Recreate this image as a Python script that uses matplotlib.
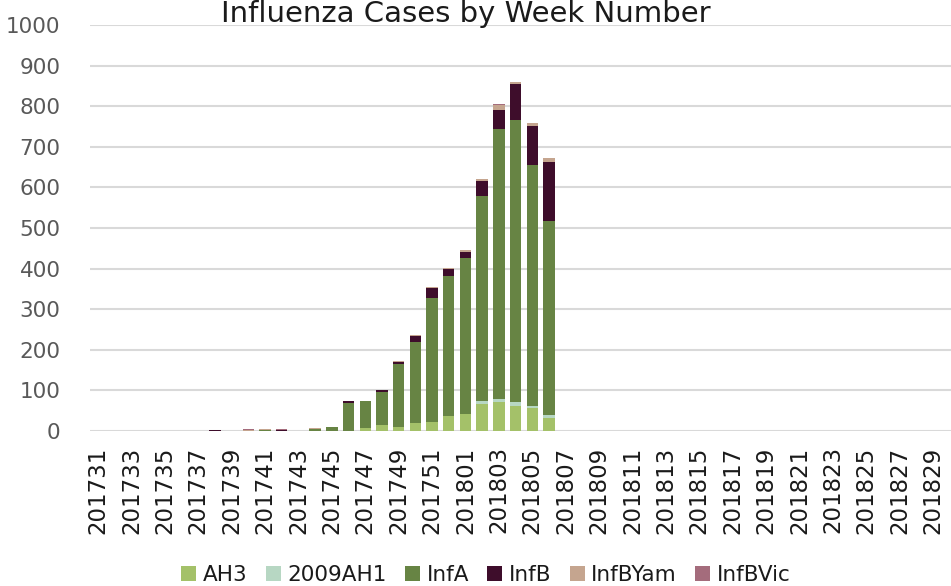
import numpy as np
import matplotlib
matplotlib.use("Agg")
import matplotlib.pyplot as plt

# week numbers (2017 wk31 .. 2018 wk30)
weeks = ["201731", "201732", "201733", "201734", "201735", "201736", "201737", "201738",
         "201739", "201740", "201741", "201742", "201743", "201744", "201745", "201746",
         "201747", "201748", "201749", "201750", "201751", "201752", "201801", "201802",
         "201803", "201804", "201805", "201806", "201807", "201808", "201809", "201810",
         "201811", "201812", "201813", "201814", "201815", "201816", "201817", "201818",
         "201819", "201820", "201821", "201822", "201823", "201824", "201825", "201826",
         "201827", "201828", "201829", "201830"]

# 13 values per line
ah3 = [0, 0, 0, 0, 0, 0, 0, 0, 0, 0, 0, 0, 0,
       0, 0, 0, 7, 15, 10, 20, 22, 38, 43, 66, 72, 62,
       57, 33, 0, 0, 0, 0, 0, 0, 0, 0, 0, 0, 0,
       0, 0, 0, 0, 0, 0, 0, 0, 0, 0, 0, 0, 0]
ah1_2009 = [0, 1, 0, 0, 0, 0, 0, 0, 0, 0, 0, 0, 1,
            0, 0, 0, 0, 0, 0, 0, 0, 0, 0, 7, 8, 9,
            5, 6, 0, 0, 0, 0, 0, 0, 0, 0, 0, 0, 0,
            0, 0, 0, 0, 0, 0, 0, 0, 0, 0, 0, 0, 0]
infa = [0, 0, 0, 0, 0, 0, 0, 0, 0, 1, 3, 0, 0,
        6, 9, 70, 68, 81, 156, 200, 305, 345, 384, 505, 663, 694,
        592, 479, 0, 0, 0, 0, 0, 0, 0, 0, 0, 0, 0,
        0, 0, 0, 0, 0, 0, 0, 0, 0, 0, 0, 0, 0]
infb = [0, 0, 0, 0, 0, 0, 0, 2, 0, 0, 0, 3, 0,
        0, 0, 3, 0, 5, 5, 15, 25, 16, 13, 37, 48, 89,
        97, 145, 0, 0, 0, 0, 0, 0, 0, 0, 0, 0, 0,
        0, 0, 0, 0, 0, 0, 0, 0, 0, 0, 0, 0, 0]
infb_yam = [0, 0, 0, 0, 0, 0, 0, 0, 0, 2, 1, 0, 0,
            1, 0, 1, 0, 1, 1, 2, 3, 3, 5, 5, 12, 6,
            7, 9, 0, 0, 0, 0, 0, 0, 0, 0, 0, 0, 0,
            0, 0, 0, 0, 0, 0, 0, 0, 0, 0, 0, 0, 0]
infb_vic = [0, 0, 0, 0, 0, 0, 0, 1, 0, 1, 2, 1, 0,
            0, 0, 0, 0, 0, 0, 0, 0, 0, 0, 0, 2, 0,
            1, 0, 0, 0, 0, 0, 0, 0, 0, 0, 0, 0, 0,
            0, 0, 0, 0, 0, 0, 0, 0, 0, 0, 0, 0, 0]

series = [("AH3", ah3, "#A4C169"),
          ("2009AH1", ah1_2009, "#B7D7C3"),
          ("InfA", infa, "#678444"),
          ("InfB", infb, "#3E0D2B"),
          ("InfBYam", infb_yam, "#C5A58F"),
          ("InfBVic", infb_vic, "#A46C7C")]

plt.rcParams['font.family'] = ['DejaVu Sans']

fig = plt.figure(figsize=(9.51, 5.86), dpi=100)
# plot area runs a bit past the right edge, like the cropped original
ax = fig.add_axes([89.7 / 951, 1 - 431 / 586, 868.4 / 951, 406 / 586])

x = np.arange(len(weeks))
bottom = np.zeros(len(weeks))
handles = []
for name, vals, col in series:
    vals = np.array(vals, dtype=float)
    b = ax.bar(x, vals, 0.68, bottom=bottom, color=col, label=name, zorder=3)
    handles.append(b)
    bottom += vals

ax.set_xlim(-0.5, len(weeks) - 0.5)
ax.set_ylim(0, 1000)
ax.set_yticks(range(0, 1001, 100))
ax.grid(axis='y', color='#D9D9D9', linewidth=1.5, zorder=0)
ax.set_axisbelow(True)
for s in ['top', 'right', 'left', 'bottom']:
    ax.spines[s].set_visible(False)
ax.tick_params(axis='both', length=0)
ax.tick_params(axis='y', labelsize=15.5, labelcolor='#595959', pad=21)
ax.set_xticks(x[::2])
ax.set_xticklabels(weeks[::2], rotation=90, fontsize=16.5, color='#1a1a1a')
ax.tick_params(axis='x', pad=11)

fig.text(466 / 951, 1 - 22 / 586, "Influenza Cases by Week Number", ha='center',
         va='baseline', fontsize=21, color='#1a1a1a')

fig.legend(handles=handles, loc='center', bbox_to_anchor=(486 / 951, 1 - 575 / 586),
           ncol=6, frameon=False, fontsize=15.5, handlelength=0.7, handleheight=0.7,
           handletextpad=0.3, columnspacing=0.85, labelcolor='#1a1a1a')

fig.savefig("out.png", dpi=100)
